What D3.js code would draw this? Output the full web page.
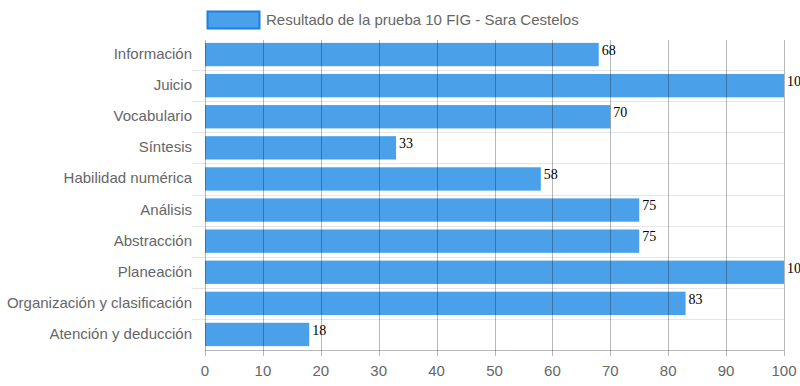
<!DOCTYPE html>
<html lang="es">
<head>
<meta charset="UTF-8">
<title>Resultado de la prueba 10 FIG</title>
<style>
  body { margin: 0; background: #fff; }
  svg text { font-family: "Liberation Sans", Arial, sans-serif; }
</style>
</head>
<body>
<div id="chart"></div>
<script src="https://d3js.org/d3.v7.min.js"></script>
<script>
    // Data
    var categories = ["Información", "Juicio", "Vocabulario", "Síntesis", "Habilidad numérica",
        "Análisis", "Abstracción", "Planeación", "Organización y clasificación", "Atención y deducción"];
    var scores = [68, 100, 70, 33, 58, 75, 75, 100, 83, 18];
    var xTicks = [0, 10, 20, 30, 40, 50, 60, 70, 80, 90, 100];
    var seriesName = "Resultado de la prueba 10 FIG - Sara Cestelos";

    var vp = {width: 800, height: 386};
    var margin = {top: 39, right: 16, bottom: 36, left: 205};
    var w = vp.width - margin.left - margin.right;
    var h = vp.height - margin.top - margin.bottom;

    var svg = d3.select("#chart").append("svg")
        .attr("width", vp.width)
        .attr("height", vp.height);

    var g = svg.append("g")
        .attr("transform", "translate(" + margin.left + "," + margin.top + ")");

    var x = d3.scaleLinear().domain([0, 100]).range([0, w]);
    var y = d3.scaleBand().domain(categories).range([0, h]).paddingInner(0.25).paddingOuter(0.125);
    var yb = d3.scaleBand().domain(categories).range([0, h]);

    // horizontal category grid lines (no line on top edge)
    g.append("g").selectAll("line")
        .data(categories.slice(1))
        .enter().append("line")
        .attr("x1", -13).attr("x2", w)
        .attr("y1", d => Math.round(yb(d)) + 0.5)
        .attr("y2", d => Math.round(yb(d)) + 0.5)
        .attr("stroke", "#e6e6e6");

    // bars
    g.append("g").selectAll("rect")
        .data(scores)
        .enter().append("rect")
        .attr("x", 0)
        .attr("y", (d, i) => y(categories[i]))
        .attr("width", d => x(d))
        .attr("height", y.bandwidth())
        .attr("fill", "rgba(30,136,229,0.8)");

    // vertical grid lines over bars
    g.append("g").selectAll("line")
        .data(xTicks)
        .enter().append("line")
        .attr("x1", d => Math.round(x(d)) + 0.5)
        .attr("x2", d => Math.round(x(d)) + 0.5)
        .attr("y1", 1).attr("y2", h + 6)
        .attr("stroke", "rgba(0,0,0,0.28)");

    // bottom axis line
    g.append("line")
        .attr("x1", 0).attr("x2", w)
        .attr("y1", h + 0.5).attr("y2", h + 0.5)
        .attr("stroke", "rgba(0,0,0,0.28)");

    // x tick labels
    g.append("g").selectAll("text")
        .data(xTicks)
        .enter().append("text")
        .attr("x", d => x(d))
        .attr("y", h + 26)
        .attr("text-anchor", "middle")
        .attr("font-size", 15)
        .attr("fill", "#666")
        .text(d => d);

    // y labels
    g.append("g").selectAll("text")
        .data(categories)
        .enter().append("text")
        .attr("x", -13)
        .attr("y", d => yb(d) + yb.bandwidth() / 2 + 4.5)
        .attr("text-anchor", "end")
        .attr("font-size", 15)
        .attr("fill", "#666")
        .text(d => d);

    // value labels
    g.append("g").selectAll("text")
        .data(scores)
        .enter().append("text")
        .attr("x", d => x(d) + 3)
        .attr("y", (d, i) => y(categories[i]) + 12)
        .style("font-family", "'Liberation Serif', 'Times New Roman', serif")
        .attr("font-size", 14)
        .attr("fill", "#000")
        .text(d => d);

    // legend
    var legend = svg.append("g").attr("transform", "translate(207,11)");
    legend.append("rect")
        .attr("x", 0.5).attr("y", 0.5)
        .attr("width", 52).attr("height", 17)
        .attr("fill", "rgba(30,136,229,0.8)")
        .attr("stroke", "#1e7fe0")
        .attr("stroke-width", 2);
    legend.append("text")
        .attr("x", 59).attr("y", 9)
        .attr("dy", "0.35em")
        .attr("font-size", 15)
        .attr("fill", "#666")
        .text(seriesName);
</script>
</body>
</html>
